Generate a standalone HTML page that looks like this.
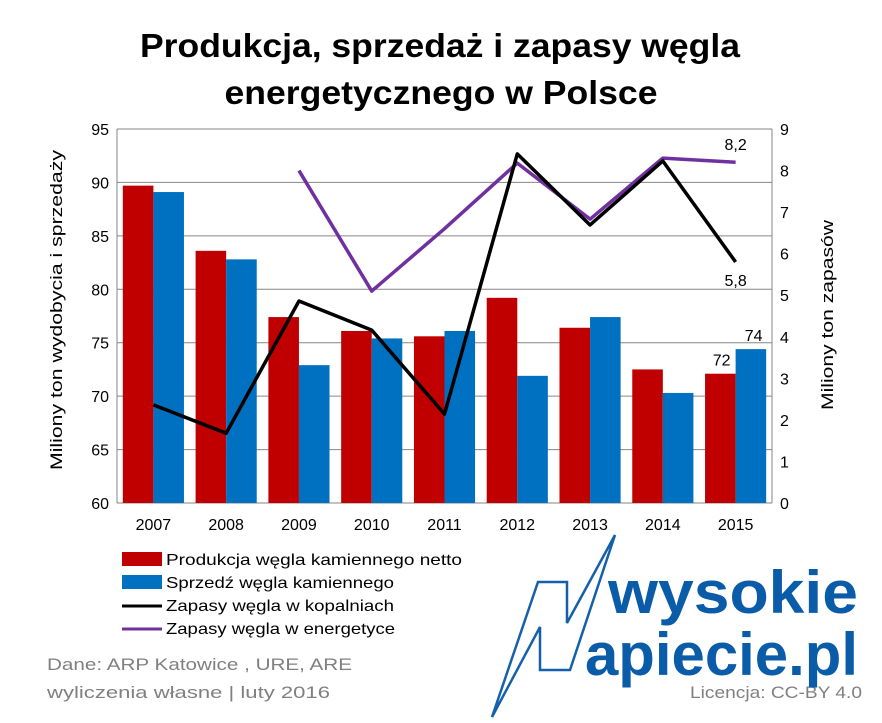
<!DOCTYPE html>
<html><head><meta charset="utf-8"><style>
body{margin:0;background:#fff;}
svg{display:block;font-family:"Liberation Sans",sans-serif;}
</style></head><body>
<svg id="c" width="882" height="723" viewBox="0 0 882 723">
<text x="440" y="57" text-anchor="middle" font-size="33" font-weight="bold" textLength="600" lengthAdjust="spacingAndGlyphs">Produkcja, sprzedaż i zapasy węgla</text>
<text x="441" y="104" text-anchor="middle" font-size="33" font-weight="bold" textLength="433" lengthAdjust="spacingAndGlyphs">energetycznego w Polsce</text>
<g id="grid"></g><g id="bars"></g><g id="lines"></g><g id="axes"></g>
<text transform="translate(62,310) rotate(-90)" text-anchor="middle" font-size="17" textLength="320" lengthAdjust="spacingAndGlyphs">Miliony ton wydobycia i sprzedaży</text>
<text transform="translate(833,315) rotate(-90)" text-anchor="middle" font-size="17" textLength="190" lengthAdjust="spacingAndGlyphs">Miliony ton zapasów</text>
<g font-size="16">
<rect x="122" y="552" width="40" height="14" fill="#C00000"/>
<text x="166" y="565" textLength="296" lengthAdjust="spacingAndGlyphs">Produkcja węgla kamiennego netto</text>
<rect x="122" y="575" width="40" height="14" fill="#0070C0"/>
<text x="166" y="588" textLength="228" lengthAdjust="spacingAndGlyphs">Sprzedź węgla kamiennego</text>
<line x1="122" y1="606" x2="162" y2="606" stroke="#000" stroke-width="3"/>
<text x="166" y="611" textLength="228" lengthAdjust="spacingAndGlyphs">Zapasy węgla w kopalniach</text>
<line x1="122" y1="629" x2="162" y2="629" stroke="#7030A0" stroke-width="3"/>
<text x="166" y="634" textLength="229" lengthAdjust="spacingAndGlyphs">Zapasy węgla w energetyce</text>
</g>
<text x="47" y="670" font-size="17" fill="#808080" textLength="305" lengthAdjust="spacingAndGlyphs">Dane: ARP Katowice , URE,  ARE</text>
<text x="47" y="698" font-size="17" fill="#808080" textLength="283" lengthAdjust="spacingAndGlyphs">wyliczenia własne  |  luty 2016</text>
<text x="862" y="698" text-anchor="end" font-size="17" fill="#808080" textLength="172" lengthAdjust="spacingAndGlyphs">Licencja: CC-BY 4.0</text>
<g>
<polygon points="615,535 567,623 567,582 538,582 492,717 540,627 540,670 570,670" fill="none" stroke="#1560AB" stroke-width="2.5" stroke-linejoin="miter"/>
<text x="608" y="613" font-size="60" font-weight="bold" fill="#0A5BA8" textLength="250" lengthAdjust="spacingAndGlyphs">wysokie</text>
<text x="585" y="675" font-size="60" font-weight="bold" fill="#0A5BA8" textLength="273" lengthAdjust="spacingAndGlyphs">apiecie.pl</text>
</g>
</svg>
<script>
const years=["2007","2008","2009","2010","2011","2012","2013","2014","2015"];
const production=[89.7,83.6,77.4,76.1,75.6,79.2,76.4,72.5,72.1];
const sales=[89.1,82.8,72.9,75.4,76.1,71.9,77.4,70.3,74.4];
const minesStock=[2.36,1.68,4.86,4.16,2.14,8.4,6.69,8.23,5.8];
const energyStock=[null,null,8.0,5.1,6.6,8.18,6.83,8.3,8.2];
const leftTicks=[60,65,70,75,80,85,90,95];
const rightTicks=[0,1,2,3,4,5,6,7,8,9];
const NS="http://www.w3.org/2000/svg";
const X0=117,X1=772,Y0=503,Y1=129;
const band=(X1-X0)/years.length;
const yL=v=>Y0-(v-60)/35*(Y0-Y1);
const yR=v=>Y0-v/9*(Y0-Y1);
const xc=i=>X0+band*(i+0.5);
function mk(t,a,p){const e=document.createElementNS(NS,t);for(const k in a)e.setAttribute(k,a[k]);document.getElementById(p).appendChild(e);return e;}
leftTicks.forEach(v=>{
 const g=mk('line',{x1:X0,x2:X1,y1:yL(v),y2:yL(v),stroke:'#868686','stroke-width':1},'grid');
 
 
 const t=mk('text',{x:X0-8,y:yL(v)+6,'text-anchor':'end','font-size':16},'axes');t.textContent=v;
 
 
});
rightTicks.forEach(v=>{
 const t=mk('text',{x:X1+8,y:yR(v)+6,'font-size':16},'axes');t.textContent=v;
 
 
});
let a=mk('line',{x1:X0,x2:X0,y1:Y1,y2:Y0,stroke:'#868686'},'axes');


a=mk('line',{x1:X1,x2:X1,y1:Y1,y2:Y0,stroke:'#868686'},'axes');


years.forEach((y,i)=>{
 const t=mk('text',{x:xc(i),y:Y0+27,'text-anchor':'middle','font-size':16},'axes');t.textContent=y;
 
 
 const bw=band*0.42;
 const r1=mk('rect',{x:xc(i)-bw,y:yL(production[i]),width:bw,height:Y0-yL(production[i]),fill:'#C00000'},'bars');
 
 
 const r2=mk('rect',{x:xc(i),y:yL(sales[i]),width:bw,height:Y0-yL(sales[i]),fill:'#0070C0'},'bars');
 
 
});
function line(arr,col,name){
 const pts=arr.map((v,i)=>v==null?null:xc(i)+','+yR(v)).filter(p=>p);
 const p=mk('polyline',{points:pts.join(' '),fill:'none',stroke:col,'stroke-width':3.5,'stroke-linejoin':'round'},'lines');
 
 
}
line(energyStock,'#7030A0','line-energy-stock');
line(minesStock,'#000','line-mines-stock');
const n=years.length-1;
function lab(x,y,s,nm){const t=mk('text',{x:x,y:y,'text-anchor':'middle','font-size':16},'lines');t.textContent=s;
 
 }
lab(xc(n)-14,yL(production[n])-8,Math.round(production[n]),'label-production-2015');
lab(xc(n)+18,yL(sales[n])-8,Math.round(sales[n]),'label-sales-2015');
lab(xc(n),yR(energyStock[n])-12,String(energyStock[n]).replace('.',','),'label-energy-2015');
lab(xc(n),yR(minesStock[n])+24,String(minesStock[n]).replace('.',','),'label-mines-2015');
</script>
</body></html>
